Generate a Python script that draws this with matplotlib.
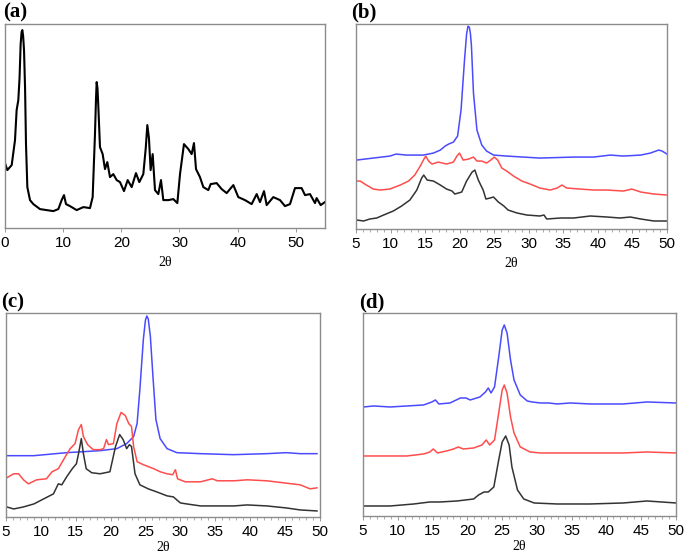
import matplotlib
matplotlib.use("Agg")
import matplotlib.pyplot as plt
from matplotlib.ticker import MultipleLocator

# (a) single pattern, 2theta vs intensity (heights)
a_x = [0.0, 0.4, 1.15, 1.72, 2.0, 2.29, 2.5, 2.69, 2.85, 2.98, 3.12, 3.27, 3.45, 3.61, 3.84, 4.3, 4.87,
       6.02, 7.16, 8.31,
       9.17, 9.74, 10.14, 10.49, 11.17, 12.32, 13.47, 14.61, 15.07, 15.47, 15.65, 15.76, 15.9, 16.05,
       16.33, 16.79, 17.19, 17.59, 18.05, 18.62, 19.2, 19.77, 20.46, 21.09, 21.78, 22.52, 23.09,
       23.78, 24.2, 24.47, 24.75, 25.04, 25.39, 25.79, 26.36, 26.82, 27.22, 28.08, 28.94, 29.63,
       30.09, 30.77, 31.52, 32.09, 32.49, 32.84, 33.52, 34.1, 34.96, 35.36, 36.39, 37.25, 38.11,
       39.26, 40.11, 41.26, 42.41, 43.27, 43.84, 44.53, 44.99, 46.13, 47.28, 48.14, 49.0, 49.86,
       51.0, 51.58, 52.44, 53.3, 53.58, 54.27, 55.0]
a_y = [65, 58, 63, 88, 118, 128, 150, 184, 196, 198, 192, 178, 140, 84, 41, 28, 24,
       19, 18, 17,
       19, 28, 33, 24, 22, 18, 21, 20, 31, 94, 130, 146, 140, 121,
       81, 74, 59, 66, 51, 54, 48, 46, 37, 48, 41, 55, 46,
       54, 80, 103, 90, 58, 74, 38, 34, 48, 28, 28, 29, 25,
       54, 84, 79, 74, 85, 59, 51, 41, 38, 44, 45, 39, 35,
       43, 31, 28, 24, 34, 26, 37, 23, 31, 28, 22, 24, 40,
       40, 33, 34, 25, 30, 23, 26]

# (b)
b_blue_x = [5.1, 7.5, 9.9, 10.8, 12.3, 14.75, 16.2, 17.2, 17.9, 18.4, 19.1, 19.7, 20.2, 20.7, 21.0,
            21.2, 21.4, 21.55, 21.7, 22.0, 22.5, 23.2, 23.9, 24.9, 26.8, 31.6, 36.5, 39.4, 41.8,
            43.7, 46.2, 47.6, 48.8, 49.3, 50.0]
b_blue_y = [69, 71, 73, 75, 74, 74, 76, 79, 83, 85, 87, 93, 119, 169, 195,
            203, 202, 196, 184, 136, 99, 84, 78, 74, 73, 71, 72, 72, 74,
            73, 74, 76, 79, 78, 75]
b_red_x = [5.1, 5.6, 6.5, 7.5, 8.5, 9.9, 11.4, 12.6, 13.5, 14.3, 14.75, 15.1, 15.5, 16.0, 16.9,
           18.1, 19.1, 19.6, 19.98, 20.5, 21.3, 22.0, 22.5, 23.2, 23.9, 24.5, 25.0, 25.5, 26.1,
           26.8, 27.8, 29.0, 30.2, 31.6, 33.1, 34.1, 34.8, 35.5, 37.4, 39.4, 41.3, 43.7, 44.9,
           46.2, 48.1, 50.0]
b_red_y = [48, 48, 44, 40, 39, 40, 44, 48, 54, 63, 69, 73, 68, 65, 67,
           65, 67, 73, 76, 69, 70, 72, 68, 68, 66, 69, 72, 69, 61,
           58, 53, 48, 45, 41, 39, 41, 44, 41, 40, 39, 39, 38, 40,
           37, 35, 34]
b_black_x = [5.1, 6.1, 7.0, 8.0, 9.0, 10.4, 11.6, 12.8, 13.8, 14.5, 14.8, 15.3, 16.2, 17.2, 18.1,
             18.9, 19.3, 20.3, 21.0, 21.8, 22.2, 22.7, 23.4, 23.8, 24.4, 24.9, 25.6, 26.4, 27.0,
             28.3, 29.7, 31.6, 32.2, 32.6, 34.6, 36.5, 38.9, 41.3, 43.2, 44.7, 46.2, 48.1, 50.0]
b_black_y = [9, 8, 10, 11, 14, 18, 23, 29, 39, 51, 54, 49, 48, 44, 40,
             38, 35, 37, 48, 57, 59, 49, 39, 30, 31, 32, 27, 23, 19,
             16, 14, 13, 14, 10, 11, 11, 13, 12, 11, 12, 10, 8, 8]

# (c)
c_blue_x = [5.1, 9.0, 13.7, 18.5, 20.9, 22.3, 23.3, 23.8, 24.2, 24.7, 25.0, 25.2, 25.4, 25.7, 26.1,
            26.5, 27.1, 28.1, 29.5, 32.9, 37.6, 42.4, 45.2, 47.2, 49.6]
c_blue_y = [61, 61, 64, 66, 68, 73, 80, 93, 127, 177, 196, 200, 197, 180, 137,
            97, 78, 68, 64, 63, 62, 63, 64, 63, 63]
c_red_x = [5.1, 6.1, 6.8, 7.5, 8.2, 9.4, 10.8, 11.6, 12.5, 13.5, 14.2, 14.9, 15.4, 15.8, 16.1,
           16.7, 17.5, 18.5, 19.0, 19.4, 19.7, 20.4, 20.9, 21.5, 22.1, 22.6, 23.0, 23.3, 23.8,
           24.7, 26.2, 27.1, 28.1, 28.9, 29.3, 29.6, 30.7, 31.7, 32.9, 34.6, 35.3, 37.7, 39.6,
           42.4, 44.8, 47.2, 48.6, 49.6]
c_red_y = [39, 43, 43, 37, 33, 37, 38, 45, 48, 60, 68, 73, 87, 92, 80,
           72, 67, 67, 68, 77, 72, 73, 93, 104, 101, 93, 90, 70, 55,
           52, 48, 45, 43, 42, 47, 38, 35, 35, 35, 38, 36, 36, 37,
           36, 34, 32, 28, 29]
c_black_x = [5.1, 6.1, 7.5, 9.0, 10.4, 11.8, 12.5, 13.0, 13.7, 14.5, 15.1, 15.4, 15.8, 16.1, 16.5,
             17.3, 18.5, 19.9, 20.7, 21.3, 21.8, 22.3, 22.7, 23.0, 23.5, 24.2, 25.4, 26.6, 28.1,
             29.0, 30.0, 30.9, 32.9, 35.3, 37.7, 39.6, 42.4, 45.2, 47.2, 49.6]
c_black_y = [10, 8, 10, 13, 18, 23, 33, 32, 40, 48, 53, 63, 78, 63, 48,
             44, 43, 45, 70, 82, 77, 68, 72, 70, 43, 32, 28, 25, 21,
             20, 14, 13, 11, 11, 11, 12, 11, 9, 7, 6]

# (d)
d_blue_x = [5.1, 6.5, 8.9, 11.3, 13.7, 14.9, 15.4, 15.9, 17.5, 19.0, 19.8, 20.4, 21.8, 22.6, 23.0,
            23.4, 23.9, 24.5, 25.0, 25.3, 25.7, 26.2, 26.7, 27.6, 28.6, 29.3, 30.5, 31.7, 32.9,
            34.8, 37.6, 42.4, 45.8, 50.0]
d_blue_y = [109, 110, 109, 110, 111, 114, 116, 112, 113, 118, 118, 116, 119, 124, 128,
            123, 129, 159, 186, 191, 183, 156, 136, 121, 115, 114, 113, 113, 112,
            113, 112, 112, 114, 113]
d_red_x = [5.1, 8.9, 11.3, 13.7, 14.6, 15.1, 15.7, 17.0, 18.0, 18.7, 19.4, 20.9, 22.1, 22.7, 23.2,
           23.9, 24.5, 25.0, 25.3, 25.7, 26.2, 26.7, 27.6, 29.0, 30.5, 35.3, 42.4, 45.8, 50.0]
d_red_y = [60, 60, 60, 62, 64, 67, 63, 65, 67, 69, 67, 68, 71, 76, 71,
           76, 103, 126, 131, 123, 99, 83, 69, 64, 63, 63, 63, 64, 63]
d_black_x = [5.1, 8.9, 12.3, 14.6, 16.1, 18.5, 20.9, 21.6, 22.4, 23.0, 23.8, 24.5, 25.0, 25.5, 26.0,
             26.4, 27.2, 28.1, 29.6, 32.9, 37.6, 42.4, 45.8, 50.0]
d_black_y = [10, 10, 12, 14, 14, 15, 17, 21, 24, 24, 29, 56, 74, 80, 71,
             49, 26, 17, 13, 12, 12, 13, 15, 13]

BLUE = "#4a4aff"
RED = "#ff4d4d"
DARK = "#333333"

fig = plt.figure(figsize=(6.85, 5.55), dpi=100)

def style(ax, xmin, xmax, major, minor, ytop):
    ax.set_xlim(xmin, xmax)
    ax.set_ylim(0, ytop)
    ax.set_yticks([])
    ax.xaxis.set_major_locator(MultipleLocator(major))
    if minor:
        ax.xaxis.set_minor_locator(MultipleLocator(minor))
    ax.tick_params(axis="x", which="major", length=3, width=0.6, color="#888888",
                   labelsize=11, pad=3)
    ax.tick_params(axis="x", which="minor", length=2, width=0.5, color="#888888")
    for lab in ax.get_xticklabels():
        lab.set_fontfamily("Liberation Sans")
    for s in ax.spines.values():
        s.set_color("#8c8c8c")
        s.set_linewidth(1.0)
    ax.set_xlabel("2θ", fontfamily="Liberation Serif", fontsize=10, labelpad=4)

kw = dict(lw=1.1, solid_joinstyle="round")

ax_a = fig.add_axes([0.0073, 0.589, 0.467, 0.3676])
ax_a.plot(a_x, a_y, color="black", lw=1.5, solid_joinstyle="round")
style(ax_a, 0, 55, 10, None, 204)

ax_b = fig.add_axes([0.5197, 0.5874, 0.454, 0.369])
ax_b.plot(b_blue_x, b_blue_y, color=BLUE, **kw)
ax_b.plot(b_red_x, b_red_y, color=RED, **kw)
ax_b.plot(b_black_x, b_black_y, color=DARK, **kw)
style(ax_b, 5, 50, 5, 1, 205)

ax_c = fig.add_axes([0.0088, 0.0685, 0.458, 0.3676])
ax_c.plot(c_blue_x, c_blue_y, color=BLUE, **kw)
ax_c.plot(c_red_x, c_red_y, color=RED, **kw)
ax_c.plot(c_black_x, c_black_y, color=DARK, **kw)
style(ax_c, 5, 50, 5, 1, 203)
ax_c.xaxis.labelpad = 1

ax_d = fig.add_axes([0.53, 0.0703, 0.457, 0.3658])
ax_d.plot(d_blue_x, d_blue_y, color=BLUE, **kw)
ax_d.plot(d_red_x, d_red_y, color=RED, **kw)
ax_d.plot(d_black_x, d_black_y, color=DARK, **kw)
style(ax_d, 5, 50, 5, 1, 203)
ax_d.xaxis.labelpad = 1

# panel letters
for txt, x, y in [("(a)", 0.004, 0.978), ("(b)", 0.513, 0.978),
                  ("(c)", 0.002, 0.455), ("(d)", 0.524, 0.455)]:
    fig.text(x, y, txt, fontfamily="Liberation Serif", fontweight="bold",
             fontsize=15, va="center", ha="left")

fig.savefig("out.png", dpi=100)
